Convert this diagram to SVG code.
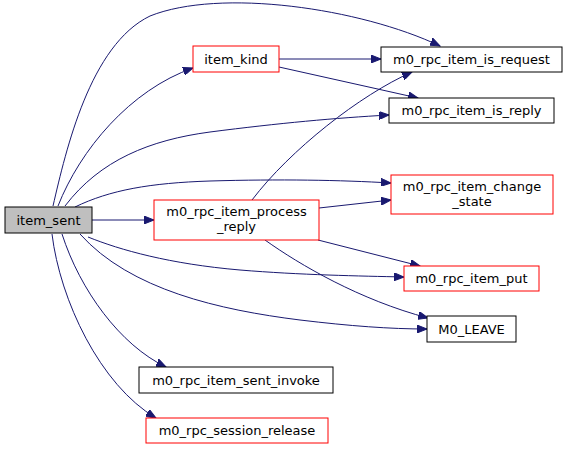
<svg xmlns="http://www.w3.org/2000/svg" width="568" height="449" viewBox="0 0 568 449">
<defs>
<marker id="ah" markerWidth="11" markerHeight="8" refX="10" refY="4" orient="auto" markerUnits="userSpaceOnUse">
<path d="M0,0 L10,4 L0,8 Z" fill="#191970" stroke="#191970"/>
</marker>
<style>
.n rect{stroke-width:1}
.blk rect{fill:#fff;stroke:#000}
.red rect{fill:#fff;stroke:#ff0000}
.cur rect{fill:#bfbfbf;stroke:#000}
text{font-family:"DejaVu Sans",sans-serif;font-size:13px;fill:#000;text-anchor:middle}
#edges path{fill:none;stroke:#191970;stroke-width:1;marker-end:url(#ah)}
</style>
</defs>
<rect width="568" height="449" fill="#fff"/>
<g id="edges">
<path d="M53,206 C66,150 90,45 150,16 C220,-12 360,8 440,46"/>
<path d="M58,206 C80,150 130,90 193,68"/>
<path d="M65,206 C100,160 150,140 210,132 C280,123 335,118 389,115"/>
<path d="M75,207 C110,190 150,183 210,181 C280,179 340,180 391,183"/>
<path d="M92,220 L154,220"/>
<path d="M88,237 C120,250 170,264 240,270 C300,275 360,276 404,277"/>
<path d="M80,234 C130,290 220,310 300,320 C350,326 390,329 427,329"/>
<path d="M62,234 C80,290 120,345 166,367"/>
<path d="M52,234 C60,300 100,385 156,418"/>
<path d="M279,59 L381,59"/>
<path d="M279,67 L418,98"/>
<path d="M252,200 C290,150 360,95 412,72"/>
<path d="M319,208 L391,200"/>
<path d="M318,240 L420,266"/>
<path d="M265,240 C300,265 360,300 428,318"/>
</g>
<g id="item_sent" class="n cur"><rect x="5" y="207" width="87" height="26"/><text x="48.5" y="224.5">item_sent</text></g>
<g id="item_kind" class="n red"><rect x="193" y="46" width="86" height="26"/><text x="236" y="63.5">item_kind</text></g>
<g id="m0_rpc_item_is_request" class="n blk"><rect x="381" y="47" width="181" height="25"/><text x="471.5" y="64">m0_rpc_item_is_request</text></g>
<g id="m0_rpc_item_is_reply" class="n blk"><rect x="389" y="98" width="165" height="25"/><text x="471.5" y="115">m0_rpc_item_is_reply</text></g>
<g id="m0_rpc_item_process_reply" class="n red"><rect x="154" y="200" width="165" height="40"/><text x="236.5" y="216">m0_rpc_item_process</text><text x="236.5" y="231">_reply</text></g>
<g id="m0_rpc_item_change_state" class="n red"><rect x="391" y="175" width="162" height="39"/><text x="472" y="191">m0_rpc_item_change</text><text x="472" y="206">_state</text></g>
<g id="m0_rpc_item_put" class="n red"><rect x="404" y="266" width="135" height="25"/><text x="471.5" y="283">m0_rpc_item_put</text></g>
<g id="M0_LEAVE" class="n blk"><rect x="427" y="316" width="89" height="26"/><text x="471.5" y="333.5">M0_LEAVE</text></g>
<g id="m0_rpc_item_sent_invoke" class="n blk"><rect x="139" y="367" width="194" height="26"/><text x="236" y="384.5">m0_rpc_item_sent_invoke</text></g>
<g id="m0_rpc_session_release" class="n red"><rect x="146" y="418" width="182" height="25"/><text x="237" y="435">m0_rpc_session_release</text></g>
</svg>
